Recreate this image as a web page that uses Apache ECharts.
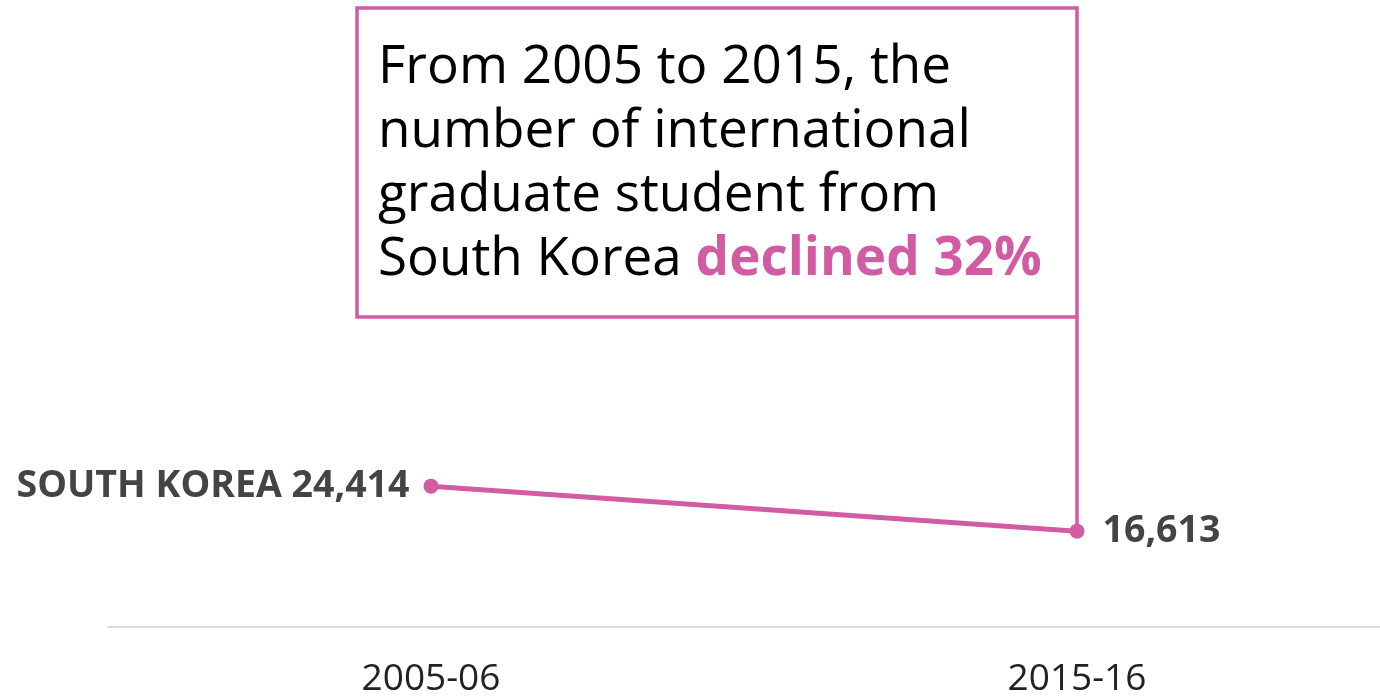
<!DOCTYPE html>
<html>
<head>
<meta charset="utf-8">
<script src="https://cdn.jsdelivr.net/npm/echarts@6/dist/echarts.min.js"></script>
<style>
  html, body { margin: 0; padding: 0; background: #ffffff; }
  #main { width: 1380px; height: 698px; }
</style>
</head>
<body>
<div id="main"></div>
<script>
// 数据
var years = ['2005-06', '2015-16'];
var students = [24414, 16613];
var countryName = 'SOUTH KOREA';
var noteLines = ['From 2005 to 2015, the', 'number of international', 'graduate student from'];
var noteLast = 'South Korea ';
var noteHighlight = 'declined 32%';

var pink = '#d25ca4';
var chart = echarts.init(document.getElementById('main'), null, { renderer: 'canvas' });

function fmt(v) {
  return v.toLocaleString('en-US');
}

var option = {
  backgroundColor: '#ffffff',
  animation: false,
  grid: { left: 108, width: 1292, top: 50, bottom: 71, containLabel: false, outerBoundsMode: 'none' },
  xAxis: {
    type: 'category',
    data: years,
    boundaryGap: true,
    axisLine: { show: true, lineStyle: { color: '#dddddd', width: 2 } },
    axisTick: { show: false },
    axisLabel: {
      color: '#222222',
      fontFamily: 'Open Sans',
      fontSize: 37,
      margin: 34
    },
    splitLine: { show: false }
  },
  yAxis: {
    type: 'value',
    min: 0,
    max: 100000,
    show: false
  },
  series: [{
    type: 'line',
    data: [
      {
        value: students[0],
        label: {
          position: 'left',
          distance: 14,
          formatter: function (p) { return countryName + ' ' + fmt(p.value); }
        }
      },
      {
        value: students[1],
        label: {
          position: 'right',
          distance: 18,
          formatter: function (p) { return fmt(p.value); }
        }
      }
    ],
    symbol: 'circle',
    symbolSize: 15,
    itemStyle: { color: pink },
    lineStyle: { color: pink, width: 5 },
    label: {
      show: true,
      color: '#444444',
      fontFamily: 'Open Sans',
      fontWeight: 'bold',
      fontSize: 37.5
    }
  }]
};

chart.setOption(option);

// 注释框与连接线
var endPt = chart.convertToPixel({ seriesIndex: 0 }, [1, students[1]]);
var boxLeft = 357, boxTop = 8, boxRight = endPt[0], boxBottom = 317;

chart.setOption({
  graphic: [
    {
      type: 'rect',
      shape: { x: boxLeft, y: boxTop, width: boxRight - boxLeft, height: boxBottom - boxTop },
      style: { fill: '#ffffff', stroke: pink, lineWidth: 3.5 },
      z: 10
    },
    {
      type: 'line',
      shape: { x1: boxRight, y1: boxBottom, x2: endPt[0], y2: endPt[1] },
      style: { stroke: pink, lineWidth: 3.5 },
      z: 1
    },
    {
      type: 'text',
      x: 378,
      y: 36,
      z: 11,
      style: {
        text: noteLines.join('\n') + '\n' + noteLast + '{hl|' + noteHighlight + '}',
        fill: '#000000',
        font: '53px "Open Sans"',
        lineHeight: 64,
        rich: {
          hl: {
            fill: pink,
            fontFamily: 'Open Sans',
            fontWeight: 'bold',
            fontSize: 53,
            lineHeight: 64
          }
        }
      }
    }
  ]
});
</script>
</body>
</html>
